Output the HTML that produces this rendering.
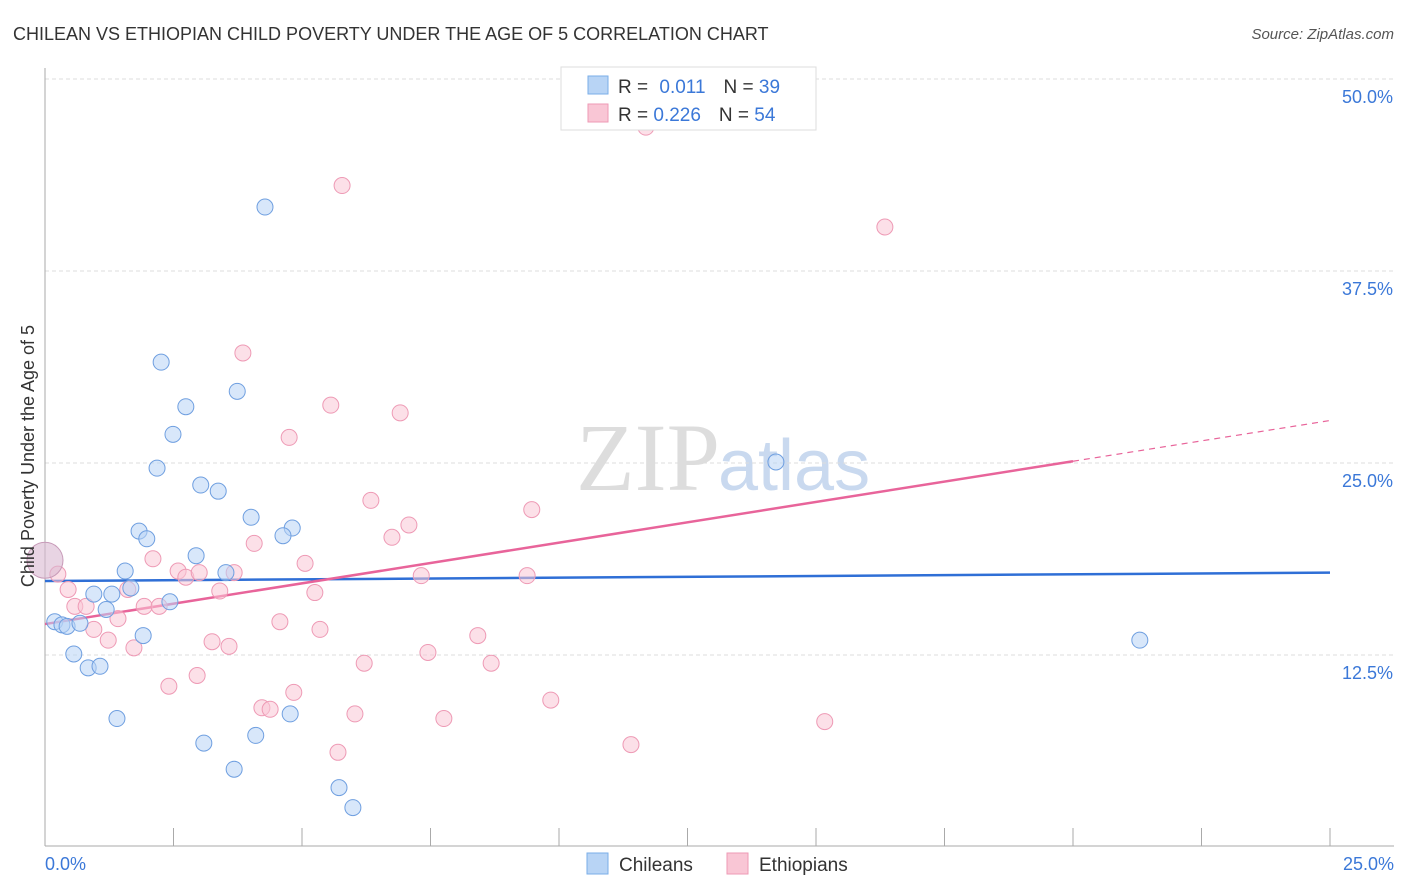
<!DOCTYPE html>
<html><head><meta charset="utf-8"><style>
body{margin:0;background:#fff;font-family:"Liberation Sans",sans-serif;}
svg{display:block}
</style></head><body>
<svg id="chart" width="1406" height="892">
<text x="13" y="40" font-size="18" fill="#333">CHILEAN VS ETHIOPIAN CHILD POVERTY UNDER THE AGE OF 5 CORRELATION CHART</text>
<text x="1394" y="39" font-size="15" fill="#555" font-style="italic" text-anchor="end">Source: ZipAtlas.com</text>
<text x="720" y="490" font-size="96" fill="#ddd" font-family="Liberation Serif,serif" text-anchor="end">ZIP</text>
<text x="718" y="490" font-size="72" fill="#c9d9ef">atlas</text>
<g id="grid"></g>
<g id="axes"></g>
<g id="trend"></g>
<g id="pts"></g>
<text transform="translate(34,456) rotate(-90)" font-size="18" fill="#333" text-anchor="middle">Child Poverty Under the Age of 5</text>
<g>
<rect x="561" y="67" width="255" height="63" fill="#fff" stroke="#ddd"/>
<rect x="588" y="76" width="20" height="18" fill="#b8d4f5" stroke="#7aaee8"/>
<rect x="588" y="104" width="20" height="18" fill="#f9c6d5" stroke="#ee9ab5"/>
<text x="618" y="93" font-size="19" fill="#333">R = <tspan fill="#3b78d8" dx="6">0.011</tspan><tspan fill="#333" dx="18">N = </tspan><tspan fill="#3b78d8">39</tspan></text>
<text x="618" y="121" font-size="19" fill="#333">R = <tspan fill="#3b78d8">0.226</tspan><tspan fill="#333" dx="18">N = </tspan><tspan fill="#3b78d8">54</tspan></text>
</g>
<g>
<rect x="587" y="853" width="21" height="21" fill="#b8d4f5" stroke="#7aaee8"/>
<text x="619" y="871" font-size="19" fill="#333">Chileans</text>
<rect x="727" y="853" width="21" height="21" fill="#f9c6d5" stroke="#ee9ab5"/>
<text x="759" y="871" font-size="19" fill="#333">Ethiopians</text>
</g>
</svg>
<script>
const chileX=[4.28,2.26,2.74,3.74,2.49,2.18,3.03,3.37,4.01,1.83,1.98,4.81,4.63,2.94,1.56,3.52,1.67,0.95,1.30,2.43,1.19,0.19,0.33,0.43,0.68,1.91,0.56,0.84,1.07,1.40,4.77,3.09,4.10,3.68,5.72,5.99,14.22,21.30];
const chileY=[41.6,31.5,28.6,29.6,26.8,24.6,23.5,23.1,21.4,20.5,20.0,20.7,20.2,18.9,17.9,17.8,16.8,16.4,16.4,15.9,15.4,14.6,14.4,14.3,14.5,13.7,12.5,11.6,11.7,8.3,8.6,6.7,7.2,5.0,3.8,2.5,25.0,13.4];
const ethX=[11.69,5.78,16.34,3.85,5.56,6.91,4.75,6.34,9.47,7.08,6.75,4.07,2.10,5.06,0.25,2.59,2.74,3.00,3.68,7.32,9.38,0.45,1.61,3.40,5.25,0.58,0.80,1.93,2.22,1.42,4.57,0.95,5.35,1.23,3.25,3.58,1.73,8.42,7.45,6.21,8.68,4.84,2.96,2.41,4.22,4.38,6.03,9.84,7.76,15.17,11.40,5.70];
const ethY=[46.8,43.0,40.3,32.1,28.7,28.2,26.6,22.5,21.9,20.9,20.1,19.7,18.7,18.4,17.7,17.9,17.5,17.8,17.8,17.6,17.6,16.7,16.7,16.6,16.5,15.6,15.6,15.6,15.6,14.8,14.6,14.1,14.1,13.4,13.3,13.0,12.9,13.7,12.6,11.9,11.9,10.0,11.1,10.4,9.0,8.9,8.6,9.5,8.3,8.1,6.6,6.1];
const bigPoint={x:0.0,y:18.6};
const chileTrend=[17.25,17.8];
const ethTrend=[14.45,27.7];
const ethSolidEnd=20;
const yTicks=[12.5,25.0,37.5,50.0];
const xTickLabels=["0.0%","25.0%"];

const NS="http://www.w3.org/2000/svg";
const X=v=>45+v/25*1285, Y=v=>846-v/50*768;
function mk(tag,attrs,parent){const e=document.createElementNS(NS,tag);for(const k in attrs)e.setAttribute(k,attrs[k]);parent.appendChild(e);return e;}
const grid=document.getElementById('grid'),axes=document.getElementById('axes'),trend=document.getElementById('trend'),pts=document.getElementById('pts');
yTicks.forEach(t=>{
  const l=mk('line',{x1:45,x2:1394,y1:Y(t)+1,y2:Y(t)+1,stroke:'#ddd','stroke-dasharray':'4,3'},grid);
  
  
  const tx=mk('text',{x:1393,y:Y(t)+25,'font-size':18,fill:'#3b78d8','text-anchor':'end'},grid);
  tx.textContent=t.toFixed(1)+'%';
  
  
});
let a=mk('line',{x1:45,x2:45,y1:68,y2:846,stroke:'#aaa'},axes);


a=mk('line',{x1:45,x2:1394,y1:846,y2:846,stroke:'#aaa'},axes);


for(let i=1;i<=10;i++){
  const t=mk('line',{x1:X(i*2.5),x2:X(i*2.5),y1:828,y2:846,stroke:'#aaa'},axes);
  
  
}
[[0,'start',45],[25,'end',1394]].forEach((d,i)=>{
  const t=mk('text',{x:d[2],y:870,'font-size':18,fill:'#3b78d8','text-anchor':d[1]},axes);
  t.textContent=xTickLabels[i];
  
  
});
function addPts(xs,ys,fill,stroke,name){
  xs.forEach((x,i)=>{
    const c=mk('circle',{cx:X(x),cy:Y(ys[i]),r:8,fill:fill,'fill-opacity':0.55,stroke:stroke,'stroke-width':1},pts);
    
    
  });
}
addPts(ethX,ethY,'#f9c6d5','#ee9ab5','ethiopian-point');
addPts(chileX,chileY,'#b8d4f5','#6f9fe0','chilean-point');
let b=mk('circle',{cx:X(bigPoint.x),cy:Y(bigPoint.y),r:18,fill:'#d9b8d0','fill-opacity':0.6,stroke:'#c79ab8'},pts);


let t1=mk('line',{x1:X(0),y1:Y(chileTrend[0]),x2:X(25),y2:Y(chileTrend[1]),stroke:'#2f6fd6','stroke-width':2.5},trend);


const ey=x=>ethTrend[0]+(ethTrend[1]-ethTrend[0])*x/25;
let t2=mk('line',{x1:X(0),y1:Y(ey(0)),x2:X(ethSolidEnd),y2:Y(ey(ethSolidEnd)),stroke:'#e8649a','stroke-width':2.5},trend);


let t3=mk('line',{x1:X(ethSolidEnd),y1:Y(ey(ethSolidEnd)),x2:X(25),y2:Y(ey(25)),stroke:'#e8649a','stroke-width':1.2,'stroke-dasharray':'6,5'},trend);


</script>
</body></html>
